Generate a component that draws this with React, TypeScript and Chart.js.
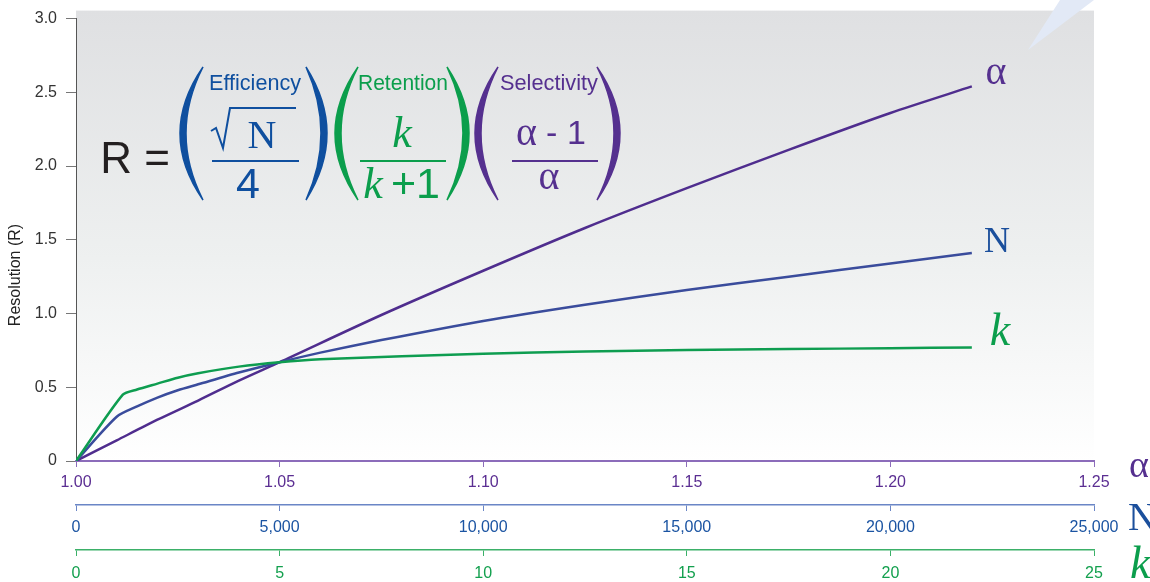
import React, { useEffect, useRef } from "react";
import { Chart, registerables } from "chart.js";

Chart.register(...registerables);

// ---- Data ----
const alphaValues = [1.0, 1.01, 1.02, 1.03, 1.04, 1.05, 1.075, 1.1, 1.125, 1.15, 1.175, 1.2, 1.22];
const alphaResolution = [0, 0.14, 0.28, 0.41, 0.545, 0.67, 0.99, 1.29, 1.58, 1.85, 2.11, 2.36, 2.54];

const plateValues = [0, 1000, 1500, 2000, 2500, 3000, 4000, 5000, 6000, 7500, 10000, 12500, 15000, 17500, 20000, 22000];
const plateResolution = [0, 0.3, 0.37, 0.43, 0.48, 0.52, 0.6, 0.67, 0.735, 0.82, 0.95, 1.06, 1.16, 1.25, 1.34, 1.41];

const retentionValues = [0, 1.15, 1.5, 2, 2.5, 3, 4, 5, 6, 8, 10, 12.5, 15, 17.5, 20, 22];
const retentionResolution = [0, 0.45, 0.485, 0.525, 0.565, 0.595, 0.64, 0.67, 0.69, 0.71, 0.728, 0.742, 0.752, 0.759, 0.765, 0.77];

const yTicks = [0, 0.5, 1.0, 1.5, 2.0, 2.5, 3.0];
const alphaTicks = [1.0, 1.05, 1.1, 1.15, 1.2, 1.25];
const plateTicks = [0, 5000, 10000, 15000, 20000, 25000];
const retentionTicks = [0, 5, 10, 15, 20, 25];

// ---- Styles ----
const PURPLE = "#55308f";
const BLUE = "#0f4f9f";
const GREEN = "#0b9e4c";
const SANS = "'Liberation Sans', Arial, Helvetica, sans-serif";
const SERIF = "'Liberation Serif', 'Times New Roman', serif";

const backgroundPlugin = {
  id: "plotBackground",
  beforeDraw(chart: any) {
    const { ctx, chartArea } = chart;
    if (!chartArea) return;
    const top = chartArea.top - 8;
    const g = ctx.createLinearGradient(0, top, 0, chartArea.bottom);
    g.addColorStop(0, "#dfe0e2");
    g.addColorStop(0.55, "#eef0f0");
    g.addColorStop(1, "#ffffff");
    ctx.save();
    ctx.fillStyle = g;
    ctx.fillRect(chartArea.left, top, chartArea.right - chartArea.left, chartArea.bottom - top);
    ctx.restore();
  },
};

function toPoints(xs: number[], ys: number[]) {
  return xs.map((x, i) => ({ x, y: ys[i] }));
}

function paren(endX: number, bulgeX: number, top: number, bottom: number) {
  const mid = (top + bottom) / 2;
  const dir = bulgeX < endX ? 1 : -1;
  const outer = 2 * bulgeX - endX;
  const inner = 2 * (bulgeX + dir * 6) - endX;
  return `M${endX},${top} Q${outer},${mid} ${endX},${bottom} Q${inner},${mid} ${endX},${top} Z`;
}

export default function App() {
  const canvasRef = useRef<HTMLCanvasElement | null>(null);

  useEffect(() => {
    if (!canvasRef.current) return;
    const tickFont = { family: SANS, size: 16 };
    const lineStyle = { borderWidth: 2.5, pointRadius: 0, tension: 0.25, fill: false };
    const chart = new Chart(canvasRef.current, {
      type: "line",
      data: {
        datasets: [
          {
            label: "k",
            data: toPoints(retentionValues, retentionResolution),
            xAxisID: "xK",
            yAxisID: "y",
            borderColor: "#0e9d50",
            ...lineStyle,
          },
          {
            label: "N",
            data: toPoints(plateValues, plateResolution),
            xAxisID: "xN",
            yAxisID: "y",
            borderColor: "#3a4c9c",
            ...lineStyle,
          },
          {
            label: "α",
            data: toPoints(alphaValues, alphaResolution),
            xAxisID: "xA",
            yAxisID: "y",
            borderColor: "#4f2d8e",
            ...lineStyle,
          },
        ],
      },
      options: {
        animation: false,
        responsive: false,
        maintainAspectRatio: false,
        layout: { padding: { top: 16, right: 56, left: 0, bottom: 0 } },
        plugins: { legend: { display: false }, tooltip: { enabled: false } },
        scales: {
          y: {
            type: "linear",
            position: "left",
            min: 0,
            max: 3,
            afterBuildTicks: (s: any) => {
              s.ticks = yTicks.map((v) => ({ value: v }));
            },
            afterFit: (s: any) => {
              s.width = 76;
            },
            ticks: {
              color: "#333333",
              font: tickFont,
              padding: 9,
              callback: (v: any) => (Number(v) === 0 ? "0" : Number(v).toFixed(1)),
            },
            grid: { drawOnChartArea: false, drawTicks: true, tickLength: 10, color: "#777777" },
            border: { display: true, color: "#555555", width: 1 },
          },
          xA: {
            type: "linear",
            position: "bottom",
            weight: 0,
            min: 1,
            max: 1.25,
            afterBuildTicks: (s: any) => {
              s.ticks = alphaTicks.map((v) => ({ value: v }));
            },
            afterFit: (s: any) => {
              s.height = 44;
            },
            ticks: {
              color: "#5b2e92",
              font: tickFont,
              padding: 6,
              maxRotation: 0,
              callback: (v: any) => Number(v).toFixed(2),
            },
            grid: { drawOnChartArea: false, drawTicks: true, tickLength: 6, color: "#8c6cba" },
            border: { display: true, color: "#8c6cba", width: 2 },
          },
          xN: {
            type: "linear",
            position: "bottom",
            weight: 1,
            min: 0,
            max: 25000,
            afterBuildTicks: (s: any) => {
              s.ticks = plateTicks.map((v) => ({ value: v }));
            },
            afterFit: (s: any) => {
              s.height = 45;
            },
            ticks: {
              color: "#1b54a2",
              font: tickFont,
              padding: 7,
              maxRotation: 0,
              callback: (v: any) => Number(v).toLocaleString("en-US"),
            },
            grid: { drawOnChartArea: false, drawTicks: true, tickLength: 6, color: "#6a86c6" },
            border: { display: true, color: "#6a86c6", width: 1.5 },
          },
          xK: {
            type: "linear",
            position: "bottom",
            weight: 2,
            min: 0,
            max: 25,
            afterBuildTicks: (s: any) => {
              s.ticks = retentionTicks.map((v) => ({ value: v }));
            },
            afterFit: (s: any) => {
              s.height = 32;
            },
            ticks: {
              color: "#13a04e",
              font: tickFont,
              padding: 8,
              maxRotation: 0,
              callback: (v: any) => String(v),
            },
            grid: { drawOnChartArea: false, drawTicks: true, tickLength: 6, color: "#3bb068" },
            border: { display: true, color: "#3bb068", width: 1.5 },
          },
        },
      },
      plugins: [backgroundPlugin],
    } as any);
    return () => chart.destroy();
  }, []);

  return (
    <div style={{ position: "absolute", left: 0, top: 0, width: 1150, height: 582, overflow: "hidden", background: "#ffffff" }}>
      <canvas ref={canvasRef} width={1150} height={582} style={{ position: "absolute", left: 0, top: 0, width: 1150, height: 582 }} />
      <svg width={1150} height={582} style={{ position: "absolute", left: 0, top: 0, pointerEvents: "none" }}>
        {/* decorative triangle */}
        <polygon points="1028,50 1060,0 1094,0" fill="#e2e9f6" />

        {/* y axis title */}
        <text x={0} y={0} transform="translate(20,275) rotate(-90)" fontSize={16} fontFamily={SANS} fill="#222222" textAnchor="middle">Resolution (R)</text>

        {/* R = */}
        <text x={135} y={173} fontSize={44} fontFamily={SANS} fill="#231f20" textAnchor="middle">R =</text>

        {/* Efficiency */}
        <path d={paren(203, 180, 67, 200)} fill={BLUE} stroke={BLUE} strokeWidth={1.5} />
        <path d={paren(306, 327, 67, 200)} fill={BLUE} stroke={BLUE} strokeWidth={1.5} />
        <text x={209} y={90} fontSize={22} fontFamily={SANS} fill={BLUE} textLength={92} lengthAdjust="spacingAndGlyphs">Efficiency</text>
        <path d="M211,131 L216,128 L223,148 L230,108 L296,108" fill="none" stroke={BLUE} strokeWidth={2} />
        <text x={262} y={148} fontSize={40} fontFamily={SERIF} fill={BLUE} textAnchor="middle">N</text>
        <rect x={212} y={160} width={87} height={2} fill={BLUE} />
        <text x={248} y={198} fontSize={43} fontFamily={SANS} fill={BLUE} textAnchor="middle">4</text>

        {/* Retention */}
        <path d={paren(358, 335, 67, 200)} fill={GREEN} stroke={GREEN} strokeWidth={1.5} />
        <path d={paren(447, 469, 67, 200)} fill={GREEN} stroke={GREEN} strokeWidth={1.5} />
        <text x={358} y={90} fontSize={22} fontFamily={SANS} fill={GREEN} textLength={90} lengthAdjust="spacingAndGlyphs">Retention</text>
        <text x={402} y={147} fontSize={44} fontFamily={SERIF} fontStyle="italic" fill={GREEN} textAnchor="middle">k</text>
        <rect x={360} y={160} width={86} height={2} fill={GREEN} />
        <text x={373} y={198} fontSize={44} fontFamily={SERIF} fontStyle="italic" fill={GREEN} textAnchor="middle">k</text>
        <text x={391} y={198} fontSize={43} fontFamily={SANS} fill={GREEN}>+1</text>

        {/* Selectivity */}
        <path d={paren(498, 475, 67, 200)} fill={PURPLE} stroke={PURPLE} strokeWidth={1.5} />
        <path d={paren(597, 620, 67, 200)} fill={PURPLE} stroke={PURPLE} strokeWidth={1.5} />
        <text x={500} y={90} fontSize={22} fontFamily={SANS} fill={PURPLE} textLength={98} lengthAdjust="spacingAndGlyphs">Selectivity</text>
        <text x={516} y={145} fontSize={40} fontFamily={SERIF} fill={PURPLE}>α</text>
        <text x={546} y={144} fontSize={34} fontFamily={SANS} fill={PURPLE} textLength={40} lengthAdjust="spacing">-1</text>
        <rect x={512} y={160} width={86} height={2} fill={PURPLE} />
        <text x={549} y={189} fontSize={40} fontFamily={SERIF} fill={PURPLE} textAnchor="middle">α</text>

        {/* curve end labels */}
        <text x={996} y={84} fontSize={40} fontFamily={SERIF} fill={PURPLE} textAnchor="middle">α</text>
        <text x={997} y={252} fontSize={36} fontFamily={SERIF} fill="#1b4f9c" textAnchor="middle">N</text>
        <text x={1000} y={345} fontSize={46} fontFamily={SERIF} fontStyle="italic" fill={GREEN} textAnchor="middle">k</text>

        {/* axis labels at right */}
        <text x={1129} y={477} fontSize={38} fontFamily={SERIF} fill={PURPLE}>α</text>
        <text x={1128} y={530} fontSize={40} fontFamily={SERIF} fill="#1b4f9c">N</text>
        <text x={1130} y={578} fontSize={46} fontFamily={SERIF} fontStyle="italic" fill={GREEN}>k</text>
      </svg>
    </div>
  );
}
